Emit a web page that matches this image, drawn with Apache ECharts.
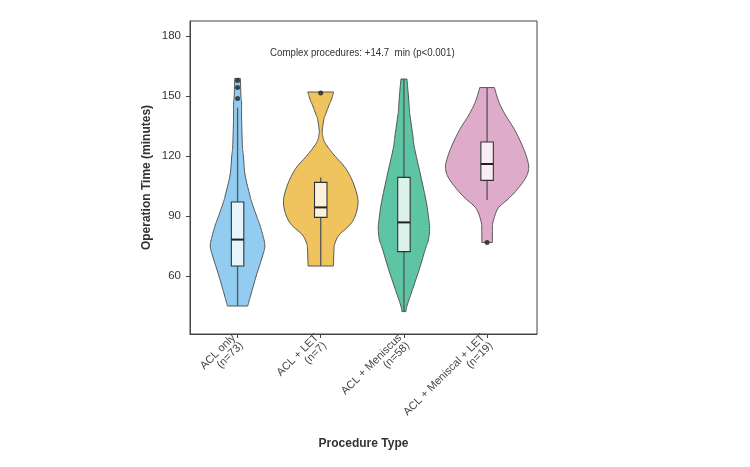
<!DOCTYPE html>
<html>
<head>
<meta charset="utf-8">
<script src="https://cdn.jsdelivr.net/npm/echarts@6/dist/echarts.min.js"></script>
<style>html,body{margin:0;padding:0;background:#fff}#chart{width:750px;height:467px}</style>
</head>
<body>
<div id="chart"></div>
<script>
// ---- Data ----
const categories = ['ACL only\n(n=73)', 'ACL + LET\n(n=7)', 'ACL + Meniscus\n(n=58)', 'ACL + Meniscal + LET\n(n=19)'];
const yTicks = [60, 90, 120, 150, 180];

// Violin outlines: operation time (min) and half-width of density (category-width units)
const violin1Times = [158.8, 150, 146.5, 140, 130, 123.8, 120, 110.5, 100, 97.2, 90, 85.5, 80, 75, 70, 60, 50, 45];
const violin1Dens  = [0.034, 0.040, 0.048, 0.048, 0.054, 0.060, 0.070, 0.090, 0.150, 0.168, 0.228, 0.268, 0.306, 0.328, 0.300, 0.224, 0.155, 0.122];
const violin2Times = [152, 148, 145.5, 141, 138.8, 133, 130.5, 128, 125.5, 120.5, 113.8, 105.5, 96.5, 87.2, 80.5, 76, 73.8, 65];
const violin2Dens  = [0.156, 0.126, 0.100, 0.060, 0.040, 0.019, 0.022, 0.036, 0.068, 0.160, 0.300, 0.400, 0.448, 0.381, 0.220, 0.168, 0.160, 0.152];
const violin3Times = [158.5, 150, 143, 140.5, 130, 123.8, 110.5, 97.2, 90, 83.8, 78, 73.8, 63.8, 53.8, 45.5, 42.2];
const violin3Dens  = [0.036, 0.054, 0.066, 0.072, 0.108, 0.128, 0.200, 0.268, 0.294, 0.309, 0.294, 0.260, 0.188, 0.108, 0.040, 0.024];
const violin4Times = [154.2, 147.2, 140.5, 133.8, 125.5, 118.8, 113.8, 108.8, 102.2, 98, 93.8, 87.2, 82.2, 76.8];
const violin4Dens  = [0.088, 0.140, 0.220, 0.321, 0.420, 0.480, 0.500, 0.460, 0.340, 0.240, 0.132, 0.072, 0.064, 0.064];

// Box statistics: [lower whisker, Q1, median, Q3, upper whisker]
const boxStats = [
  [45, 65, 78.2, 97, 144.2],
  [65, 89.3, 94.3, 106.8, 109.3],
  [42.2, 72.2, 86.8, 109.3, 158.5],
  [98, 107.8, 116, 127, 154.2]
];
// Outliers: [category index, value]
const outliers = [[0, 148.8], [0, 154.2], [0, 157.8], [1, 151.5], [3, 76.8]];

const annotationText = 'Complex procedures: +14.7  min (p<0.001)';
const annotationPos = [1.5, 171.6];

const violinColors = ['#92CDF1', '#EFC35E', '#5DC4A4', '#DFABCB'];

// ---- Build ----
const violinTimes = [violin1Times, violin2Times, violin3Times, violin4Times];
const violinDens = [violin1Dens, violin2Dens, violin3Dens, violin4Dens];
const BOX_HALF = 0.075;
const SANS = 'Liberation Sans, Arial, sans-serif';

const chart = echarts.init(document.getElementById('chart'), null, {renderer: 'canvas'});

// Catmull-Rom drawing of an open outline (rendering only)
function spline(pts, steps) {
  const out = [pts[0]];
  for (let i = 0; i < pts.length - 1; i++) {
    const p0 = pts[Math.max(0, i - 1)], p1 = pts[i], p2 = pts[i + 1], p3 = pts[Math.min(pts.length - 1, i + 2)];
    for (let s = 1; s <= steps; s++) {
      const t = s / steps, t2 = t * t, t3 = t2 * t;
      const f = (a, b, c, d) => 0.5 * ((2 * b) + (-a + c) * t + (2 * a - 5 * b + 4 * c - d) * t2 + (-a + 3 * b - 3 * c + d) * t3);
      out.push([f(p0[0], p1[0], p2[0], p3[0]), f(p0[1], p1[1], p2[1], p3[1])]);
    }
  }
  return out;
}

function violinItem(params, api) {
  const i = api.value(0);
  const ts = violinTimes[i], ds = violinDens[i];
  const left = [], right = [];
  for (let k = 0; k < ts.length; k++) {
    right.push(api.coord([i + ds[k], ts[k]]));
    left.push(api.coord([i - ds[k], ts[k]]));
  }
  const pts = spline(right, 8).concat(spline(left, 8).reverse());
  return {
    type: 'polygon',
    shape: {points: pts},
    style: {fill: violinColors[i], stroke: '#555', lineWidth: 1}
  };
}

function boxItem(params, api) {
  const i = api.value(0);
  const s = boxStats[i];
  const pLo = api.coord([i, s[0]]);
  const pQ1 = api.coord([i, s[1]]);
  const pMed = api.coord([i, s[2]]);
  const pQ3 = api.coord([i, s[3]]);
  const pHi = api.coord([i, s[4]]);
  const xL = api.coord([i - BOX_HALF, s[2]])[0];
  const xR = api.coord([i + BOX_HALF, s[2]])[0];
  return {
    type: 'group',
    children: [
      {type: 'line', shape: {x1: pLo[0], y1: pLo[1], x2: pQ1[0], y2: pQ1[1]}, style: {stroke: '#555', lineWidth: 1.3}},
      {type: 'line', shape: {x1: pQ3[0], y1: pQ3[1], x2: pHi[0], y2: pHi[1]}, style: {stroke: '#555', lineWidth: 1.3}},
      {type: 'rect', shape: {x: xL, y: pQ3[1], width: xR - xL, height: pQ1[1] - pQ3[1]},
        style: {fill: 'rgba(255,255,255,0.78)', stroke: '#333', lineWidth: 1.1}},
      {type: 'line', shape: {x1: xL, y1: pMed[1], x2: xR, y2: pMed[1]}, style: {stroke: '#222', lineWidth: 2}}
    ]
  };
}

function annotationItem(params, api) {
  const p = api.coord([api.value(0), api.value(1)]);
  return {
    type: 'text', x: p[0], y: p[1], scaleX: 0.88,
    style: {text: annotationText, textAlign: 'center', textVerticalAlign: 'middle',
      fontSize: 11, fontFamily: SANS, fill: '#333'}
  };
}

const option = {
  backgroundColor: '#fff',
  animation: false,
  textStyle: {fontFamily: SANS},
  grid: {left: 190, right: 213, top: 21, bottom: 133, show: true, borderColor: '#444', borderWidth: 1, containLabel: false},
  xAxis: {
    type: 'value', min: -0.572, max: 3.6,
    name: 'Procedure Type', nameLocation: 'middle', nameGap: 104,
    nameTextStyle: {fontSize: 12, fontWeight: 'bold', color: '#333'},
    axisLine: {show: true, onZero: false, lineStyle: {color: '#444'}},
    axisTick: {show: true, customValues: [0, 1, 2, 3], length: 4, lineStyle: {color: '#444'}},
    axisLabel: {customValues: [0, 1, 2, 3], rotate: 45, margin: 6, fontSize: 11, color: '#444', lineHeight: 11,
      formatter: v => categories[Math.round(v)] || ''},
    splitLine: {show: false}
  },
  yAxis: {
    type: 'value', min: 31, max: 187.5,
    name: 'Operation Time (minutes)', nameLocation: 'middle', nameGap: 37,
    nameTextStyle: {fontSize: 12, fontWeight: 'bold', color: '#333'},
    axisLine: {show: true, onZero: false, lineStyle: {color: '#444'}},
    axisTick: {show: true, customValues: yTicks, length: 4, lineStyle: {color: '#444'}},
    axisLabel: {customValues: yTicks, fontSize: 11.5, color: '#333', margin: 9},
    splitLine: {show: false}
  },
  series: [
    {type: 'custom', renderItem: violinItem, data: categories.map((c, i) => [i]), z: 2, silent: true},
    {type: 'custom', renderItem: boxItem, data: categories.map((c, i) => [i]), z: 3, silent: true},
    {type: 'scatter', data: outliers, symbol: 'circle', symbolSize: 5, itemStyle: {color: '#222'}, z: 4, silent: true},
    {type: 'custom', renderItem: annotationItem, data: [annotationPos], z: 5, silent: true}
  ]
};
chart.setOption(option);
</script>
</body>
</html>
